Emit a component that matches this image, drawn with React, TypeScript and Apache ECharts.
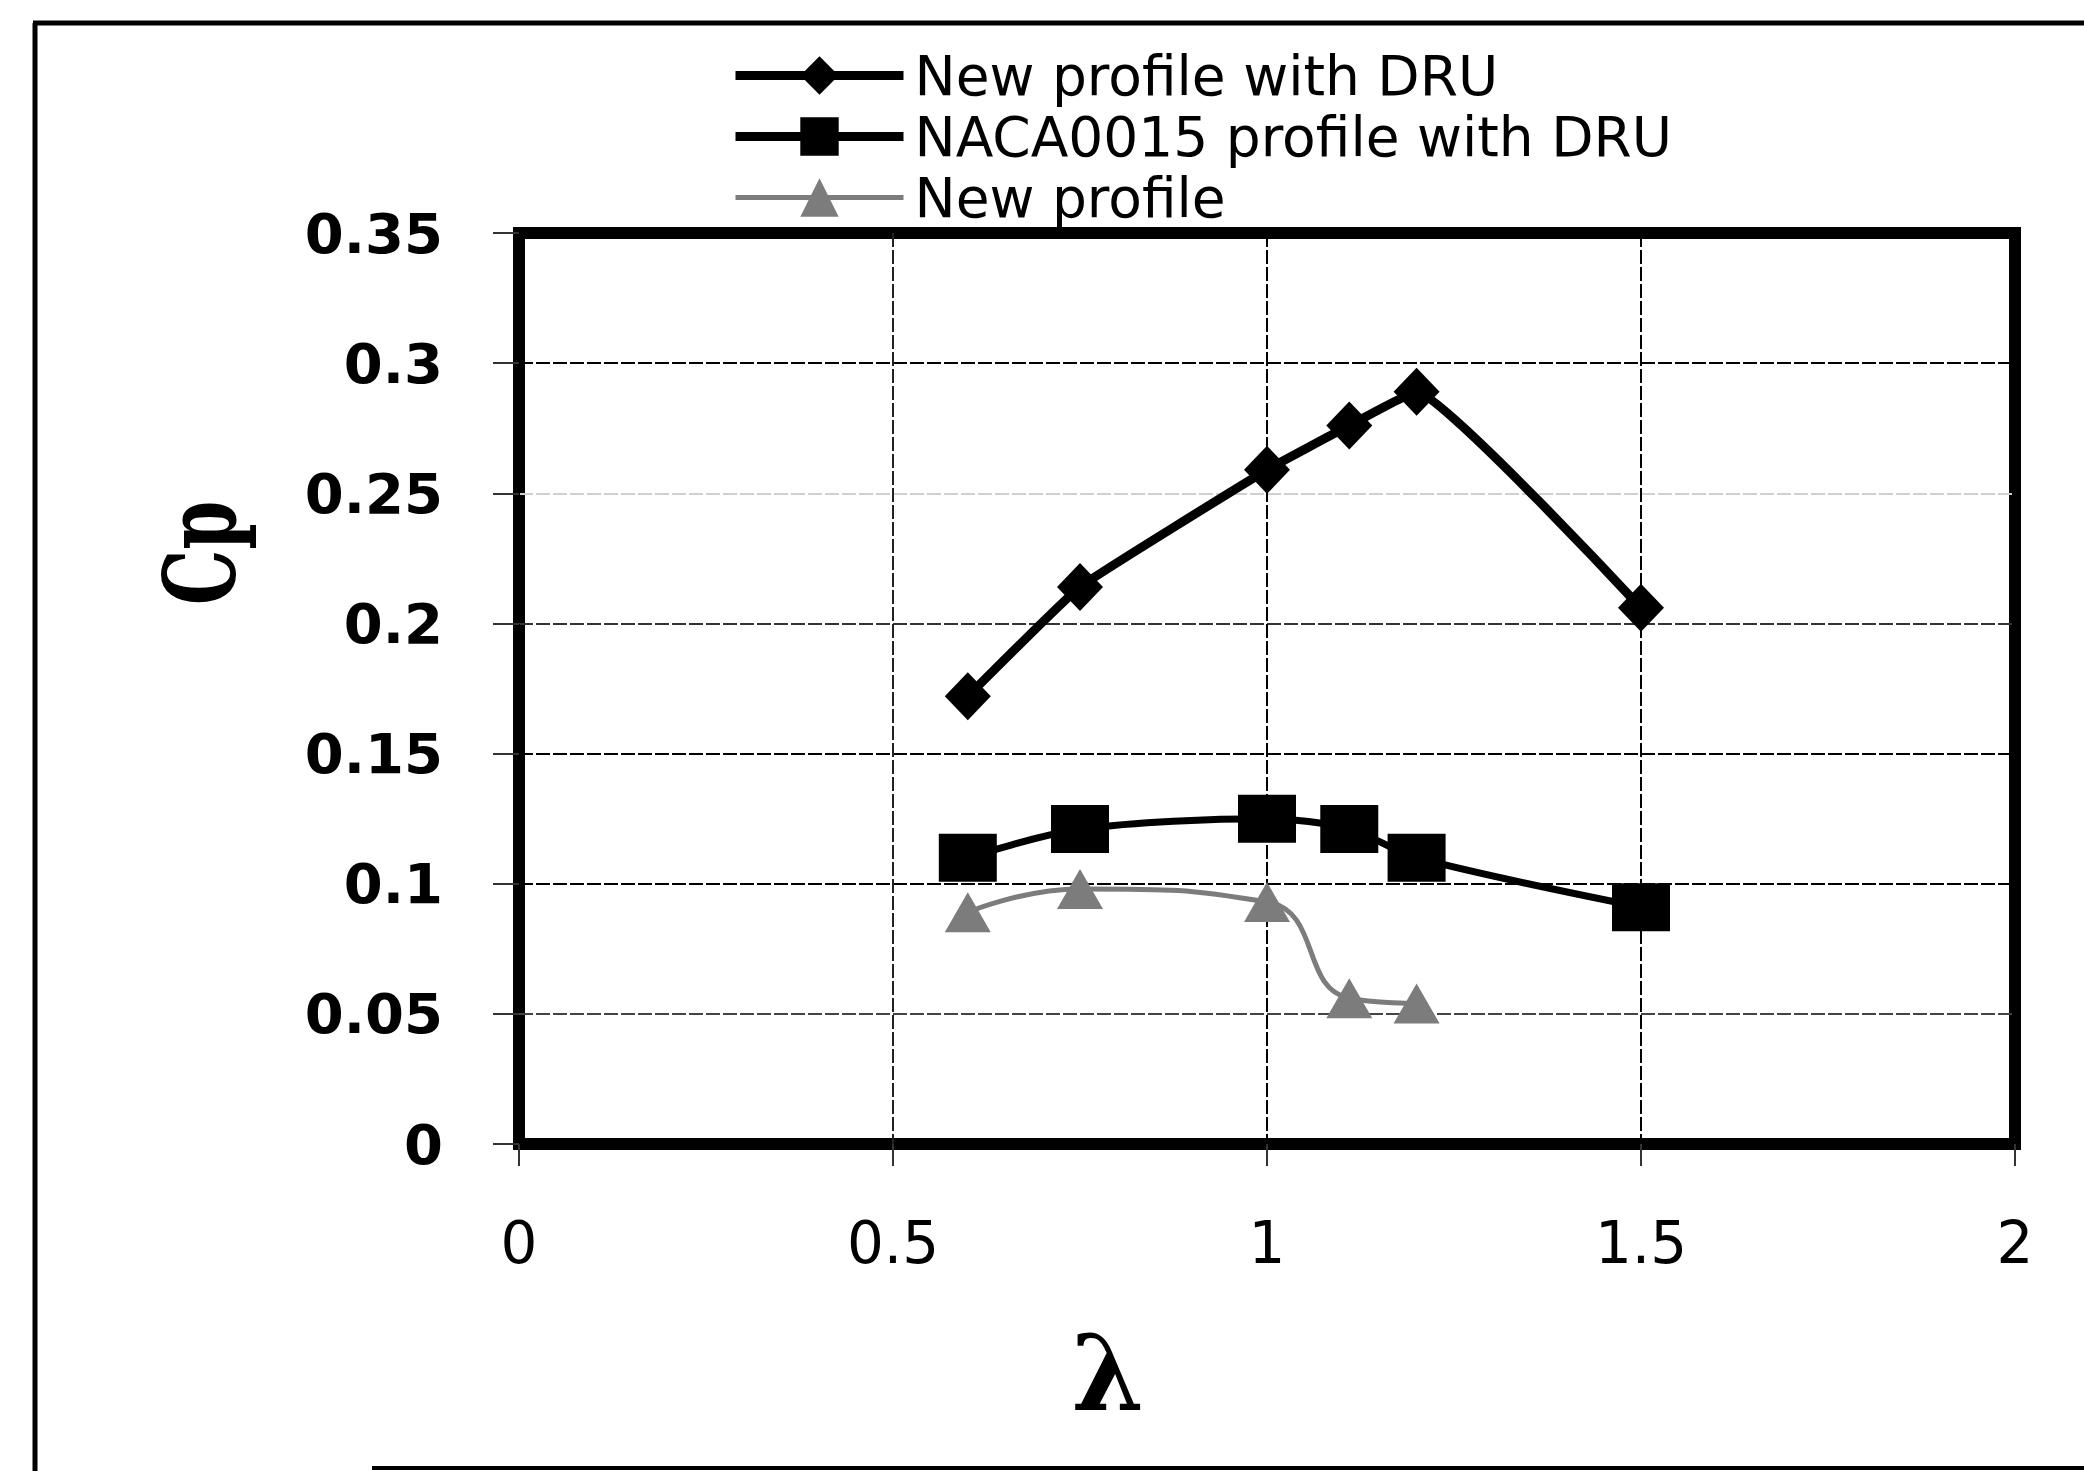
import React, { useEffect, useRef } from "react";
import * as echarts from "echarts";

const seriesNames = ["New profile with DRU", "NACA0015 profile with DRU", "New profile"];
const xDRU = [0.6, 0.75, 1.0, 1.11, 1.2, 1.5];
const cpDRU = [0.172, 0.214, 0.259, 0.276, 0.289, 0.206];
const xNACA = [0.6, 0.75, 1.0, 1.11, 1.2, 1.5];
const cpNACA = [0.11, 0.121, 0.125, 0.121, 0.11, 0.091];
const xNew = [0.6, 0.75, 1.0, 1.11, 1.2];
const cpNew = [0.089, 0.098, 0.093, 0.056, 0.054];
const xTicks = { min: 0, max: 2, interval: 0.5 };
const yTicks = { min: 0, max: 0.35, interval: 0.05 };
const yTitle = "Cp";
const xTitle = "λ";

const pair = (xs: number[], ys: number[]) => xs.map((x, i) => [x, ys[i]]);

export default function App() {
  const ref = useRef<HTMLDivElement>(null);
  useEffect(() => {
    if (!ref.current) return;
    const chart = echarts.init(ref.current, null, { renderer: "svg" });
    chart.setOption({
      animation: false,
      backgroundColor: "#fff",
      legend: {
        orient: "vertical",
        left: 726,
        top: 40,
        itemWidth: 168,
        itemHeight: 48,
        itemGap: 0,
        textStyle: { fontFamily: "DejaVu Sans", fontSize: 55, color: "#000", lineHeight: 61, padding: [0, 0, 0, 6] },
        data: [
          { name: seriesNames[0], lineStyle: { width: 9, color: "#000" } },
          { name: seriesNames[1], lineStyle: { width: 9, color: "#000" } },
          { name: seriesNames[2], lineStyle: { width: 5, color: "#7c7c7c" } },
        ],
      },
      grid: {
        left: 519,
        right: 69,
        top: 233,
        bottom: 327,
        show: true,
        borderColor: "#000",
        borderWidth: 12,
        containLabel: false,
      },
      xAxis: {
        type: "value",
        min: xTicks.min,
        max: xTicks.max,
        interval: xTicks.interval,
        axisLine: { show: false },
        axisTick: { show: true, length: 22, lineStyle: { color: "#333", width: 2 } },
        axisLabel: {
          margin: 70,
          fontFamily: "DejaVu Sans",
          fontSize: 58,
          color: "#000",
          formatter: (v: number) => String(+v.toFixed(2)),
        },
        splitLine: {
          show: true,
          lineStyle: { color: ["#000", "#222", "#000", "#000", "#000"], width: 2, type: [14, 3] },
        },
      },
      yAxis: {
        type: "value",
        min: yTicks.min,
        max: yTicks.max,
        interval: yTicks.interval,
        axisLine: { show: false },
        axisTick: { show: true, length: 26, lineStyle: { color: "#333", width: 2 } },
        axisLabel: {
          margin: 76,
          fontFamily: "DejaVu Sans",
          fontWeight: "bold",
          fontSize: 56,
          color: "#000",
          formatter: (v: number) => String(+v.toFixed(2)),
        },
        splitLine: {
          show: true,
          lineStyle: {
            color: ["#000", "#444", "#000", "#000", "#333", "#d0d0d0", "#000", "#000"],
            width: 2,
            type: [14, 3],
          },
        },
      },
      graphic: [
        {
          type: "line",
          shape: { x1: 35, y1: 23, x2: 35, y2: 1471 },
          style: { stroke: "#000", lineWidth: 5 },
        },
        {
          type: "line",
          shape: { x1: 33, y1: 23, x2: 2084, y2: 23 },
          style: { stroke: "#000", lineWidth: 5 },
        },
        {
          type: "line",
          shape: { x1: 372, y1: 1468, x2: 2084, y2: 1468 },
          style: { stroke: "#000", lineWidth: 4 },
        },
        {
          type: "text",
          x: 200,
          y: 553,
          rotation: Math.PI / 2,
          scaleX: 0.7,
          style: {
            text: yTitle,
            font: "bold 100px 'DejaVu Serif'",
            fill: "#000",
            align: "center",
            verticalAlign: "middle",
          },
        },
        {
          type: "text",
          x: 1108,
          y: 1373,
          style: {
            text: xTitle,
            font: "bold 104px 'DejaVu Serif'",
            fill: "#000",
            align: "center",
            verticalAlign: "middle",
          },
        },
      ],
      series: [
        {
          name: seriesNames[0],
          type: "line",
          data: pair(xDRU, cpDRU),
          symbol: "diamond",
          symbolSize: [46, 48],
          smooth: 0.1,
          lineStyle: { color: "#000", width: 9 },
          itemStyle: { color: "#000" },
          z: 3,
        },
        {
          name: seriesNames[1],
          type: "line",
          data: pair(xNACA, cpNACA),
          symbol: "rect",
          symbolSize: [58, 48],
          smooth: 0.3,
          lineStyle: { color: "#000", width: 7 },
          itemStyle: { color: "#000" },
          z: 3,
        },
        {
          name: seriesNames[2],
          type: "line",
          data: pair(xNew, cpNew),
          symbol: "triangle",
          symbolSize: [46, 40],
          smooth: 0.5,
          lineStyle: { color: "#7c7c7c", width: 5 },
          itemStyle: { color: "#7c7c7c" },
          z: 4,
        },
      ],
    });
    return () => chart.dispose();
  }, []);
  return (
    <div
      ref={ref}
      style={{ position: "fixed", left: 0, top: 0, width: 2084, height: 1471, background: "#fff" }}
    />
  );
}
